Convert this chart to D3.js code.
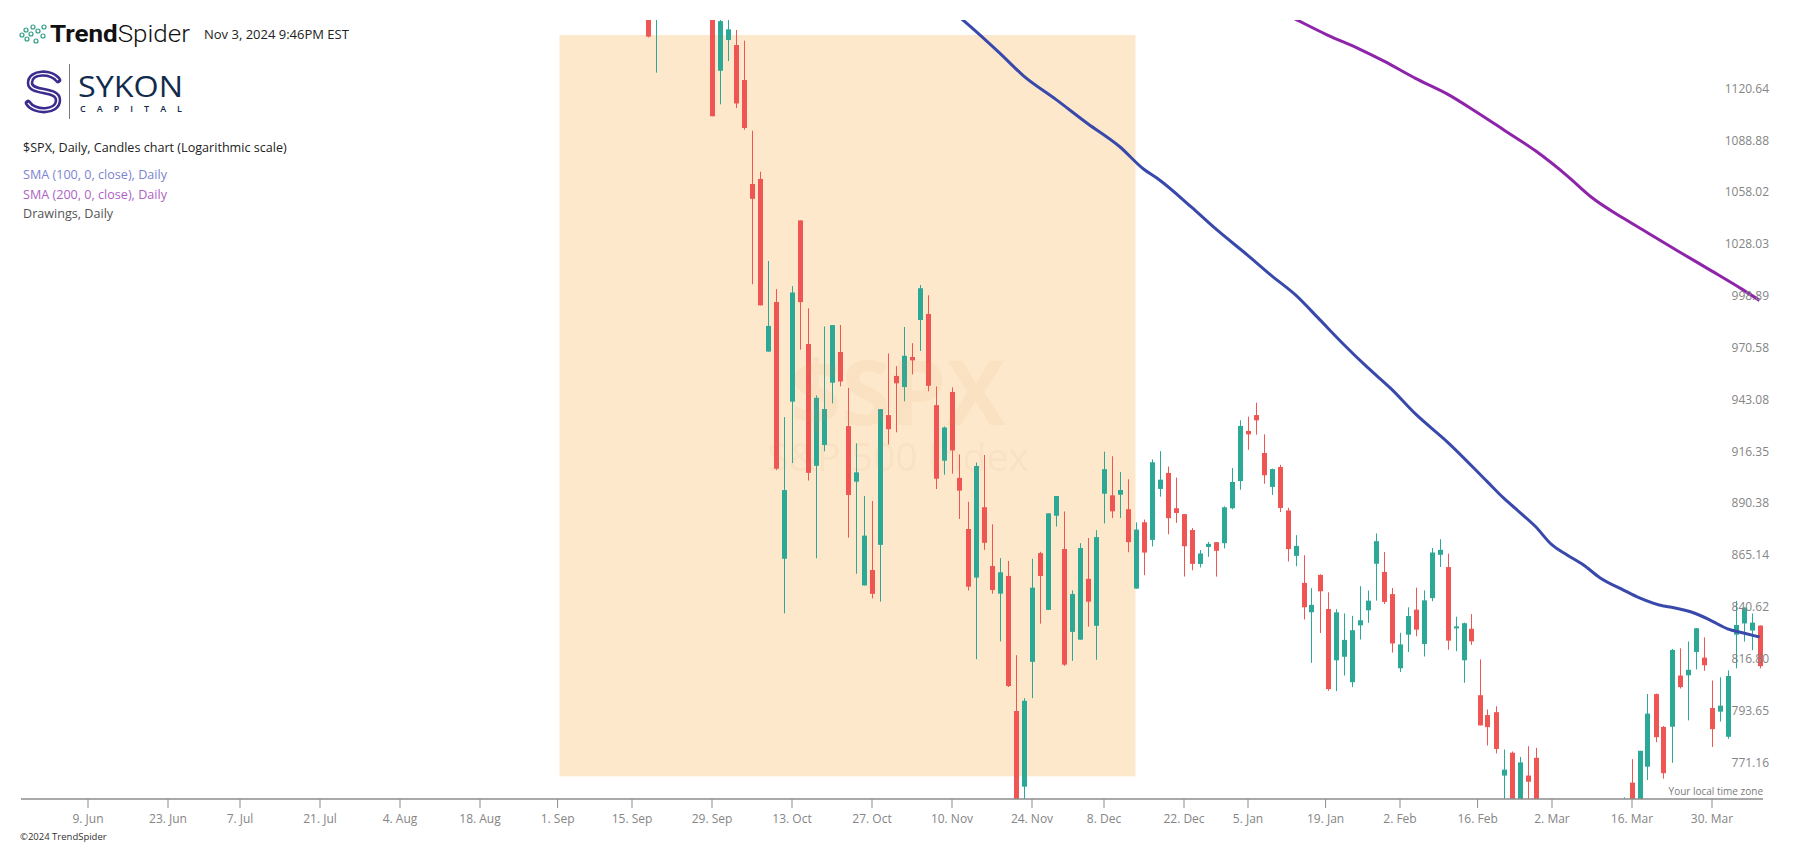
<!DOCTYPE html>
<html><head><meta charset="utf-8">
<script src="https://cdn.jsdelivr.net/npm/d3@7"></script>
<style>
body{margin:0;background:#fff;}
svg{display:block;}
text{font-family:"Open Sans",sans-serif;}
</style>
</head><body>
<svg id="c" width="1794" height="846"></svg>
<script>
// ---------------- DATA ----------------
// trading-day series starting at firstDate (one entry per NYSE session)
const firstDate = "2008-09-15";
const holidays = ["2008-05-26","2008-07-04","2008-09-01","2008-11-27","2008-12-25","2009-01-01","2009-01-19","2009-02-16","2009-04-10"];
const openP = [1250.92,1188.31,1210.34,1170,1213.11,1255.37,1207.61,1188.79,1187.87,1204.47,1209.07,1134.7,
 1154.2,1151.0,1128.9,1065.6,1068.6,971.0,998.1,865.6,944.4,1044.3,975.1,911.4,922.0,954.4,970.8,931.7,903.4,852.9,860.2,872.3,937.4,958.0,952.1,
 968.1,988.2,991.5,942.6,914.0,949.5,905.3,880.0,856.6,890.7,862.1,849.0,857.4,795.5,762.8,817.5,868.3,841.4,886.5,
 870.3,831.2,827.6,856.0,834.0,897.4,896.6,896.9,889.7,851.4,883.3,874.7,899.8,907.8,890.2,887.3,879.5,863.1,871.3,873.6,873.1,890.2,
 903.7,929.2,937.4,917.9,900.8,910.8,889.1,867.0,854.1,840.3,857.9,841.8,818.2,819.8,808.3,834.2,841.2,863.2,859.3,848.8,
 814.6,829.9,841.5,825.6,846.9,867.5,861.6,832.8,818.2,832.6,802.5,793.7,795.0,767.5,777.3,744.69,767.5,775.1,749.93,
 729.57,704.44,698.60,708.27,684.04,680.76,679.28,719.59,720.89,751.97,764.5,753.88,771.3,803.0,788.5,788.6,811.3,811.4,822.0,819.4,796.8,795.2,
 784.2,829.9,835.1,831.8,834.1];
const highP = [1250.92,1214.84,1210.34,1211.14,1265.12,1255.37,1207.61,1197.41,1220.03,1215.77,1209.07,1168.03,
 1167.03,1160.64,1153.82,1097.56,1072.91,1021.06,1005.25,936.36,1006.93,1044.31,994.60,947.71,984.64,985.40,985.44,951.67,922.83,896.30,893.78,940.51,969.97,963.23,984.38,
 975.57,1007.51,1001.84,952.40,931.46,951.95,917.15,893.39,913.01,916.88,882.29,865.90,864.57,820.52,801.20,865.60,868.94,887.68,896.25,
 888.61,850.54,873.12,875.60,879.42,918.57,916.26,908.27,904.63,883.24,884.63,914.66,918.85,911.02,905.47,887.37,880.44,869.79,873.74,873.70,891.12,910.32,
 934.73,936.63,943.85,927.45,910.00,911.93,890.40,877.02,867.28,851.59,858.13,849.64,841.72,839.74,838.61,852.53,850.45,877.86,868.89,851.66,
 830.78,842.60,851.85,850.55,870.75,875.01,868.05,838.22,835.48,839.43,818.61,796.17,797.58,778.69,777.85,775.49,780.12,779.42,751.27,
 729.57,711.67,724.12,708.27,699.09,695.27,719.60,731.92,752.63,758.29,774.53,778.12,803.04,803.24,788.91,823.37,823.65,826.78,832.98,828.68,809.07,810.48,
 813.62,845.61,842.50,839.75,834.12];
const lowP = [1192.70,1169.28,1155.88,1133.50,1213.11,1205.61,1187.60,1179.79,1187.87,1187.54,1106.42,1113.78,
 1140.77,1111.43,1098.14,1007.97,996.23,970.97,909.19,839.80,912.75,972.07,903.99,865.83,918.74,943.51,952.47,875.81,858.44,852.85,846.75,845.27,922.26,928.50,944.59,
 958.82,971.31,949.86,899.73,906.90,907.47,884.90,850.48,818.69,869.88,848.98,826.84,806.18,747.78,741.02,801.20,834.99,841.37,881.21,
 815.69,817.94,827.60,833.60,818.41,882.71,885.38,885.45,868.73,851.35,857.72,871.53,895.94,877.44,883.02,857.09,860.10,861.44,866.52,857.07,870.58,889.67,
 899.35,919.53,927.28,902.37,896.81,888.31,864.32,862.02,836.93,817.04,830.66,804.47,804.30,811.29,806.07,827.69,835.40,845.73,844.15,821.67,
 812.87,821.98,829.18,819.91,845.42,861.65,822.99,822.30,808.06,825.21,789.17,780.43,777.03,754.25,742.37,744.69,752.89,751.75,734.52,
 699.70,692.30,698.60,677.93,666.79,672.88,679.28,713.85,714.76,742.46,753.37,749.93,765.64,781.82,766.20,772.97,805.48,791.37,814.06,813.43,779.81,790.88,
 783.32,814.53,826.70,822.79,814.53];
const closeP = [1192.70,1213.60,1156.39,1206.51,1255.08,1207.09,1188.22,1185.87,1209.18,1213.27,1106.42,1166.36,
 1161.06,1114.28,1099.23,1056.89,996.23,984.94,909.92,899.22,1003.35,998.01,907.84,946.43,940.55,985.40,955.05,896.78,908.11,876.77,848.92,940.51,930.09,954.09,968.75,
 966.30,1005.75,952.77,904.88,930.99,919.21,898.95,852.30,911.29,873.29,850.75,859.12,806.58,752.44,800.03,851.81,857.39,887.68,896.24,
 816.21,848.81,870.74,845.22,876.07,909.70,888.67,899.24,873.59,879.73,868.57,913.18,904.42,885.28,887.88,871.63,863.16,868.15,872.80,869.42,890.64,903.25,
 931.80,927.45,934.70,906.65,909.73,890.35,870.26,871.79,842.62,843.74,850.12,805.22,840.24,827.50,831.95,836.57,845.71,874.09,845.14,825.88,
 825.44,838.51,832.23,845.85,868.60,869.89,827.16,833.74,835.19,826.84,789.17,788.42,778.94,770.05,743.33,773.14,764.90,752.83,735.09,
 700.82,696.33,712.87,682.55,683.38,676.53,719.60,721.36,750.74,756.55,753.89,778.12,794.35,784.04,768.54,822.92,806.12,813.88,832.86,815.94,787.53,797.87,
 811.08,834.38,842.50,835.48,815.55];

const sma100Dates = ["2008-11-05","2008-11-11","2008-11-18","2008-11-21","2008-11-28","2008-12-04","2008-12-10","2008-12-15","2008-12-17","2008-12-23","2008-12-29",
 "2009-01-05","2009-01-08","2009-01-13","2009-01-16","2009-01-22","2009-01-27","2009-01-30","2009-02-04","2009-02-10","2009-02-18","2009-02-20","2009-02-24","2009-02-26",
 "2009-03-02","2009-03-04","2009-03-06","2009-03-10","2009-03-13","2009-03-17","2009-03-20","2009-03-23","2009-03-26","2009-03-30","2009-04-01","2009-04-03","2009-04-07"];
const sma100 = [1186,1169,1146,1131.5,1117,1102,1088,1074.5,1068,1052,1039.5,
 1024.4,1012.8,1002,988.5,975,962.5,951,938,923.5,903.3,895.3,888.3,881.2,
 872.5,867.3,862.6,856.7,850.7,847,843.2,842.6,839.7,836.3,832.6,830.7,828.8];
const sma200Dates = ["2009-01-07","2009-01-13","2009-01-20","2009-01-26","2009-01-29","2009-02-04","2009-02-10","2009-02-17","2009-02-20","2009-02-26",
 "2009-03-04","2009-03-09","2009-03-13","2009-03-18","2009-03-24","2009-03-30","2009-04-03","2009-04-07"];
const sma200 = [1178,1167.6,1157.4,1148.4,1140.9,1129.9,1120.1,1107.8,1098.2,1085.4,1070.3,1057.8,1045.5,1037.2,1026.2,1015.5,1004.7,999];

const yTicks = [1120.64,1088.88,1058.02,1028.03,998.89,970.58,943.08,916.35,890.38,865.14,840.62,816.80,793.65,771.16];
const xTickDates = ["2008-06-09","2008-06-23","2008-07-07","2008-07-21","2008-08-04","2008-08-18","2008-09-01","2008-09-15","2008-09-29","2008-10-13","2008-10-27",
 "2008-11-10","2008-11-24","2008-12-08","2008-12-22","2009-01-05","2009-01-19","2009-02-02","2009-02-16","2009-03-02","2009-03-16","2009-03-30"];
const rectDates = ["2008-09-02","2008-12-12"];
const rectPrices = [1157.4, 767.2];

// ---------------- SETUP ----------------
const svg = d3.select("#c");
const fmt = d3.utcFormat("%Y-%m-%d");
const days = d3.utcDay.range(new Date("2008-05-27T00:00:00Z"), new Date("2009-04-20T00:00:00Z"))
  .filter(d => d.getUTCDay() % 6 !== 0 && !holidays.includes(fmt(d))).map(fmt);
const idxMap = new Map(days.map((d,i)=>[d,i]));
function idxOf(ds){
  if(idxMap.has(ds)) return idxMap.get(ds);
  let d = new Date(ds+"T00:00:00Z");
  for(let k=0;k<7;k++){ d = d3.utcDay.offset(d,1); if(idxMap.has(fmt(d))) return idxMap.get(fmt(d)) - 0.3; }
  return NaN;
}
const i0 = idxOf(firstDate);
const candles = openP.map((o,k)=>({i:i0+k, o, h:highP[k], l:lowP[k], c:closeP[k]}));

const x = d3.scaleLinear().domain([idxOf("2008-09-17"), idxOf("2009-04-07")]).range([647.5, 1759.5]);
const y = d3.scaleLog().domain([757.6, 1167.1]).range([799, 20]);

const UP = "#2ca897", DOWN = "#ef5552";

svg.append("defs").append("clipPath").attr("id","plot")
  .append("rect").attr("x",21).attr("y",20).attr("width",1744).attr("height",779);

// drawing rectangle
const gPlot = svg.append("g").attr("clip-path","url(#plot)");
gPlot.append("rect")
  .attr("x", x(idxOf(rectDates[0]))).attr("y", y(rectPrices[0]))
  .attr("width", x(idxOf(rectDates[1])) - x(idxOf(rectDates[0])))
  .attr("height", y(rectPrices[1]) - y(rectPrices[0]))
  .attr("fill","#fde8cb");

// watermark
const wm = svg.append("g").attr("fill","#c8965a").attr("fill-opacity",0.08)
  .style("font-family","'Liberation Sans',Arial,sans-serif").attr("text-anchor","middle");
wm.append("text").attr("x",898).attr("y",425).style("font-weight","700").style("font-size","89px").text("$SPX");
wm.append("text").attr("x",898).attr("y",471).style("font-size","39px").text("S&P 500 Index");

// candles
const gC = gPlot.append("g");
const cg = gC.selectAll("g.c").data(candles).join("g");
cg.append("line")
  .attr("x1", d=>Math.round(x(d.i))+0.5).attr("x2", d=>Math.round(x(d.i))+0.5)
  .attr("y1", d=>y(d.h)).attr("y2", d=>y(d.l))
  .attr("stroke", d=> d.c>=d.o?UP:DOWN).attr("stroke-width",1);
cg.append("rect")
  .attr("x", d=>Math.round(x(d.i))-2).attr("width",5)
  .attr("y", d=>Math.min(y(d.o),y(d.c)))
  .attr("height", d=>Math.max(1.5, Math.abs(y(d.o)-y(d.c))))
  .attr("fill", d=> d.c>=d.o?UP:DOWN);

// SMA lines
const line = d3.line().x(d=>x(d[0])).y(d=>y(d[1])).curve(d3.curveMonotoneX);
gPlot.append("path").datum(sma100Dates.map((d,k)=>[idxOf(d), sma100[k]]))
  .attr("d", line).attr("fill","none").attr("stroke","#3949ab").attr("stroke-width",3);
gPlot.append("path").datum(sma200Dates.map((d,k)=>[idxOf(d), sma200[k]]))
  .attr("d", line).attr("fill","none").attr("stroke","#8e24aa").attr("stroke-width",3);

// y labels
const yAx = svg.append("g").attr("transform","translate(1769,0)")
  .call(d3.axisLeft(y).tickValues(yTicks).tickSize(0).tickPadding(0).tickFormat(d=>d.toFixed(2)));
yAx.select(".domain").remove();
yAx.selectAll("text").attr("dy",null).attr("y",-1)
  .style("font-family","'Open Sans',sans-serif").style("font-size","12px").attr("fill","#858585");

// x axis
const xAx = svg.append("g").attr("transform","translate(0,799)")
  .call(d3.axisBottom(x).tickValues(xTickDates.map(idxOf)).tickSize(9).tickPadding(6)
    .tickFormat((v,k)=> d3.utcFormat("%-d. %b")(new Date(xTickDates[k]+"T00:00:00Z"))));
xAx.select(".domain").remove();
xAx.selectAll("line").attr("stroke","#8c8c8c");
xAx.selectAll("text").style("font-family","'Open Sans',sans-serif").style("font-size","12px").attr("fill","#858585");
svg.append("line").attr("x1",21).attr("x2",1763).attr("y1",799).attr("y2",799).attr("stroke","#8c8c8c").attr("stroke-width",1.5);
svg.append("text").attr("x",1763).attr("y",795).attr("text-anchor","end")
  .style("font-size","10px").attr("fill","#7a7a7a").text("Your local time zone");

// footer
svg.append("text").attr("x",20).attr("y",840).style("font-size","9.5px").attr("fill","#333").text("©2024 TrendSpider");

// header: TrendSpider logo
const dots = [[22,35],[26,30],[27,39],[31,34],[33,27],[36,41],[38,31],[43,36],[44,27]];
svg.append("g").selectAll("circle").data(dots).join("circle")
  .attr("cx",d=>d[0]).attr("cy",d=>d[1]).attr("r",2).attr("fill","none").attr("stroke","#2f9e84").attr("stroke-width",1.2);
const ts = svg.append("text").attr("x",50).attr("y",41.5).attr("textLength",140).attr("lengthAdjust","spacingAndGlyphs")
  .style("font-family","Roboto,sans-serif").style("font-size","23px").attr("fill","#111");
ts.append("tspan").style("font-weight","700").text("Trend");
ts.append("tspan").style("font-weight","300").text("Spider");
svg.append("text").attr("x",204).attr("y",39).style("font-size","13px").attr("fill","#222").text("Nov 3, 2024 9:46PM EST");

// Sykon logo
const sPath = "M58 80 C52 71, 30 71, 30 83 C30 94, 58 88, 58 100 C58 113, 34 113, 28 103";
svg.append("path").attr("d",sPath).attr("fill","none").attr("stroke","#3b2c8e").attr("stroke-width",6.5).attr("stroke-linecap","round");
svg.append("path").attr("d",sPath).attr("fill","none").attr("stroke","#fff").attr("stroke-width",1.4);
svg.append("line").attr("x1",69.5).attr("x2",69.5).attr("y1",64).attr("y2",119).attr("stroke","#7a7a7a");
svg.append("text").attr("x",78).attr("y",97).attr("textLength",105).attr("lengthAdjust","spacingAndGlyphs")
  .style("font-size","29px").style("font-weight","500").attr("fill","#112b4d").text("SYKON");
svg.append("text").attr("x",80).attr("y",112).attr("textLength",102).attr("lengthAdjust","spacing")
  .style("font-size","9px").style("font-weight","600").attr("fill","#112b4d").text("CAPITAL");

// info lines
const info = [["$SPX, Daily, Candles chart (Logarithmic scale)","#222",152],
  ["SMA (100, 0, close), Daily","#7b84cf",178.5],
  ["SMA (200, 0, close), Daily","#ad62c4",198.5],
  ["Drawings, Daily","#555",217.8]];
svg.append("g").selectAll("text").data(info).join("text")
  .attr("x",23).attr("y",d=>d[2]).style("font-size","12.6px").attr("fill",d=>d[1]).text(d=>d[0]);
</script>
</body></html>
